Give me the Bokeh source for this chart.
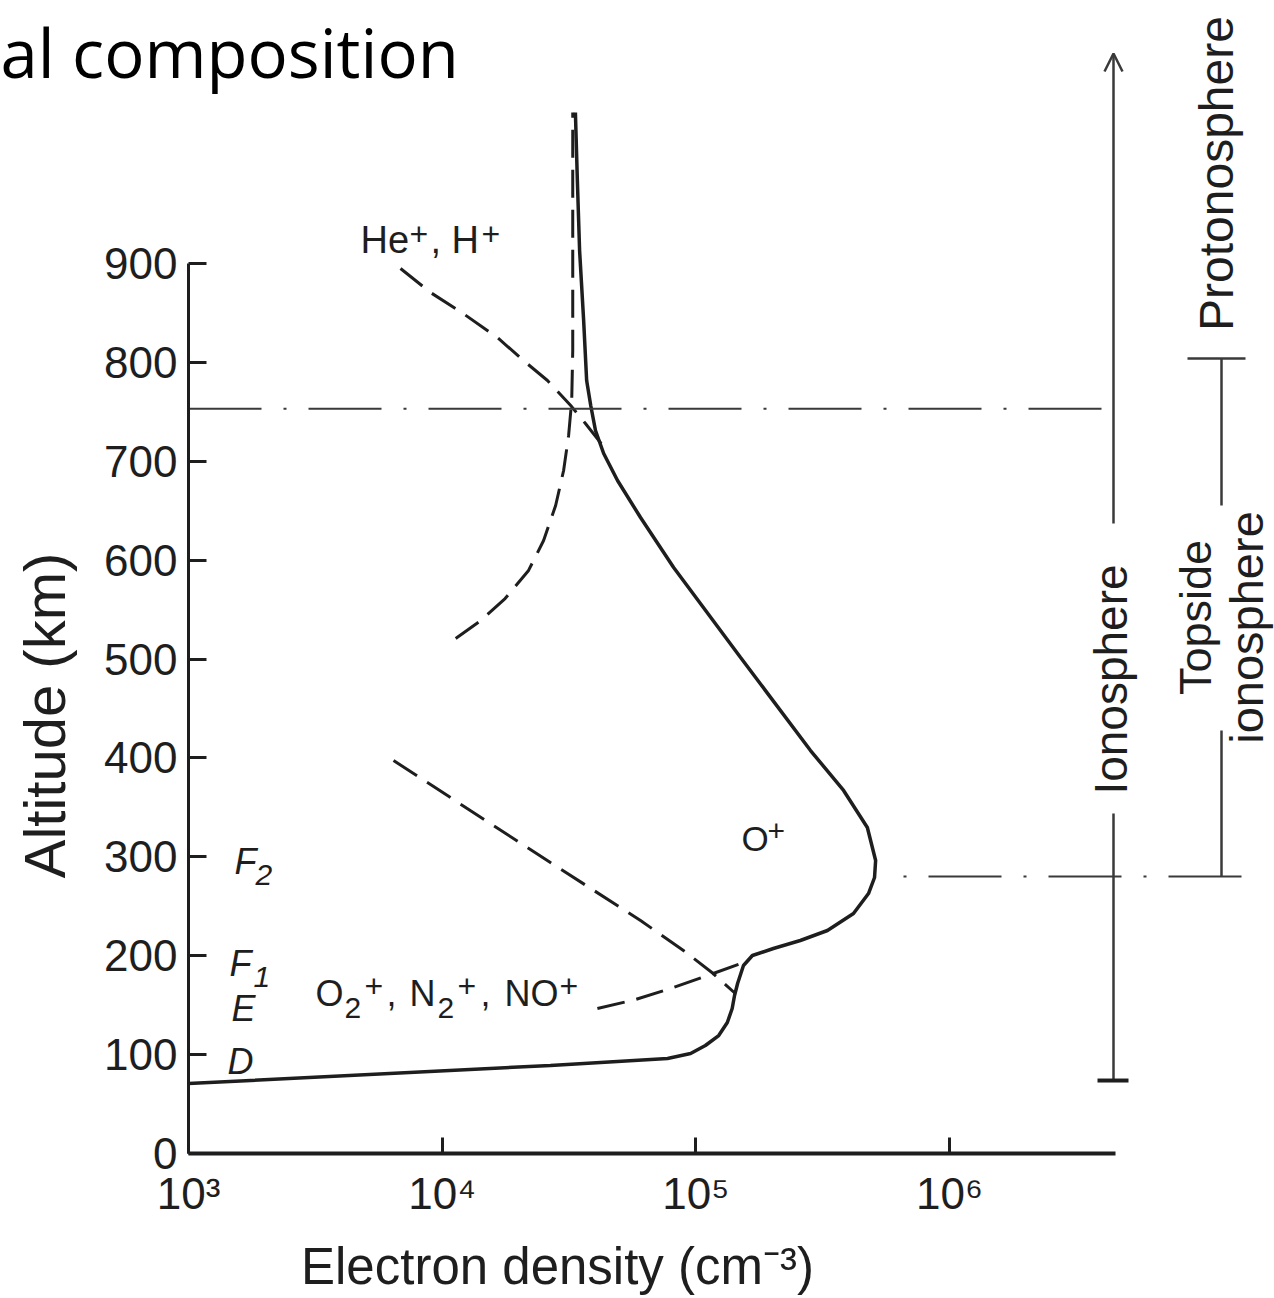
import math
from bokeh.plotting import figure
from bokeh.models import Range1d, FixedTicker, Arrow, OpenHead, ColumnDataSource
from bokeh.core.properties import value
from bokeh.embed import file_html
from bokeh.resources import INLINE

# ---------------- data ----------------
# total electron density profile (cm^-3) vs altitude (km)
NE_DENSITY = [1.00e3, 2.67e4, 7.73e4, 9.53e4, 1.09e5, 1.23e5, 1.33e5, 1.39e5, 1.42e5,
              1.46e5, 1.54e5, 1.67e5, 2.02e5, 2.58e5, 3.30e5, 4.18e5, 4.79e5, 5.06e5,
              5.11e5, 4.74e5, 3.82e5, 2.83e5, 1.50e5, 8.17e4, 6.05e4, 4.91e4, 4.33e4,
              4.02e4, 3.85e4, 3.71e4, 3.61e4, 3.48e4, 3.41e4, 3.35e4]
NE_ALT = [70.8, 89.0, 96.1, 101.1, 109.2, 119.3, 132.5, 146.6, 159.8,
          171.9, 190.1, 200.2, 207.3, 215.4, 225.5, 242.7, 262.9, 279.1,
          296.3, 329.7, 367.1, 407.5, 501.6, 592.6, 643.1, 680.6, 707.9,
          731.1, 756.4, 781.7, 842.4, 913.1, 984.0, 1052.7]

# upper ion branch (dashed, from 900 km down)
UPPER_DENSITY = [6.85e3, 8.99e3, 1.21e4, 1.65e4, 2.09e4, 2.60e4, 3.21e4, 3.67e4, 4.29e4]
UPPER_ALT = [894.9, 870.7, 849.4, 825.2, 801.9, 781.7, 756.4, 738.2, 716.0]

# light ions (dashed, rising)
LIGHT_DENSITY = [1.13e4, 1.42e4, 1.77e4, 2.19e4, 2.51e4, 2.80e4, 3.01e4, 3.15e4,
                 3.24e4, 3.27e4, 3.27e4, 3.27e4]
LIGHT_ALT = [520.8, 539.0, 561.2, 589.6, 619.9, 655.3, 690.7, 726.1,
             761.5, 812.0, 913.1, 1052.7]

# O+ lower side (dashed, from 400 km down)
OLOW_DENSITY = [6.43e3, 1.29e4, 2.67e4, 6.05e4, 8.93e4, 1.17e5, 1.43e5]
OLOW_ALT = [397.4, 346.9, 294.3, 235.6, 205.3, 182.0, 161.8]

# molecular ions (dashed)
MOL_DENSITY = [4.09e4, 5.78e4, 8.17e4, 1.17e5, 1.50e5]
MOL_ALT = [146.6, 155.7, 167.9, 182.0, 192.1]

# region boundaries (km)
IONO_BASE_KM = 73.8
F2_PEAK_KM = 280.1
TRANSITION_KM = 753.0
PROTO_BASE_KM = 803.9

X_TICKS = [1e3, 1e4, 1e5, 1e6]
X_TICK_LABELS = ["10\u00b3", "10\u2074", "10\u2075", "10\u2076"]
Y_TICKS = [0, 100, 200, 300, 400, 500, 600, 700, 800, 900]

# ---------------- layout ----------------
W, H = 1274, 1298
AX_X0, AX_Y0 = 188, 1153          # page pixel of (1e3, 0 km)
PX_PER_DEC = 253.7
PX_PER_KM = 0.98889
MID = 0.3465                       # em offset baseline -> middle (Liberation Sans)
MID_OPEN = 0.39                    # same for Open Sans


def X(sx):
    """density drawn at page pixel column sx"""
    return 10 ** (3 + (sx - AX_X0) / PX_PER_DEC)


def KM(sy):
    """altitude drawn at page pixel row sy"""
    return (AX_Y0 - sy) / PX_PER_KM


def KM_BASE(sy, size, k=MID):
    """altitude of the text middle for a baseline at page row sy"""
    return KM(sy - k * size)


p = figure(width=W, height=H, x_axis_type="log",
           x_range=Range1d(X(0), X(W)), y_range=Range1d(KM(H), KM(0)),
           output_backend="svg", toolbar_location=None, title=None,
           min_border=0)
p.grid.visible = False
p.outline_line_color = None
p.background_fill_color = "white"
p.border_fill_color = "white"

INK = "#1e1e1e"
GREY = "#3a3a3a"
FONT = "Liberation Sans"

xa = p.xaxis[0]
xa.fixed_location = 0
xa.ticker = FixedTicker(ticks=X_TICKS)
xa.major_label_overrides = dict(zip(X_TICKS, X_TICK_LABELS))
xa.bounds = (1e3, X(1115))
xa.major_tick_in = 16
xa.major_tick_out = 0
xa.minor_tick_line_color = None
xa.axis_line_width = 4
xa.axis_line_color = INK
xa.major_tick_line_width = 3
xa.major_tick_line_color = INK
xa.major_label_text_font = FONT
xa.major_label_text_font_size = "44px"
xa.major_label_text_color = INK
xa.major_label_standoff = 15

ya = p.yaxis[0]
ya.fixed_location = 1e3
ya.ticker = FixedTicker(ticks=Y_TICKS)
ya.bounds = (0, 900)
ya.major_tick_in = 18
ya.major_tick_out = 0
ya.minor_tick_line_color = None
ya.axis_line_width = 3
ya.axis_line_color = INK
ya.major_tick_line_width = 3
ya.major_tick_line_color = INK
ya.major_label_text_font = FONT
ya.major_label_text_font_size = "44px"
ya.major_label_text_color = INK
ya.major_label_standoff = 11

# ---------------- curves ----------------
p.line(NE_DENSITY, NE_ALT, line_color=INK, line_width=3.5)
DASH = "28 12"
for xs, ys in [(UPPER_DENSITY, UPPER_ALT), (LIGHT_DENSITY, LIGHT_ALT),
               (OLOW_DENSITY, OLOW_ALT), (MOL_DENSITY, MOL_ALT)]:
    p.line(xs, ys, line_color=INK, line_width=3, line_dash=DASH)

# dash-dot boundaries
p.line([1e3, X(1101)], [TRANSITION_KM, TRANSITION_KM], line_color=GREY, line_width=2,
       line_dash="73 22 3 22")
p.line([X(903), X(1242)], [F2_PEAK_KM, F2_PEAK_KM], line_color=GREY, line_width=2,
       line_dash="3 22 73 22")

# ionosphere arrow
xi = X(1113)
p.line([xi, xi], [IONO_BASE_KM, KM(813)], line_color=GREY, line_width=2.5)
p.line([X(1097), X(1128)], [IONO_BASE_KM, IONO_BASE_KM], line_color=INK, line_width=4)
p.add_layout(Arrow(end=OpenHead(size=18, line_width=2.5, line_color=GREY),
                   x_start=xi, y_start=KM(523), x_end=xi, y_end=KM(53),
                   line_width=2.5, line_color=GREY))

# topside bracket
xt = X(1221)
p.line([X(1187), X(1245)], [PROTO_BASE_KM, PROTO_BASE_KM], line_color=GREY, line_width=2.5)
p.line([xt, xt], [PROTO_BASE_KM, KM(505)], line_color=GREY, line_width=2.5)
p.line([xt, xt], [KM(730), F2_PEAK_KM], line_color=GREY, line_width=2.5)

# rotated labels (region names and the y-axis title)
rot = ColumnDataSource(dict(
    x=[X(1110), X(1195), X(1246), X(1216), X(44)],
    y=[KM(679), KM(617), KM(627), KM(173), KM(715)],
    text=["Ionosphere", "Topside", "ionosphere", "Protonosphere", "Altitude (km)"],
    size=["46px", "45px", "47px", "48px", "58px"]))
p.text(x="x", y="y", text="text", text_font_size="size", source=rot,
       angle=math.pi / 2, text_align="center", text_baseline="middle",
       text_font=value(FONT), text_color=INK)

# ion and layer labels built from pieces (sub/superscripts as smaller raised/lowered text)
PIECES = [
    # text, left px, baseline px, size, style
    ("He", 360, 253, 38, "normal"), ("+", 409, 245, 32, "normal"),
    (", H", 430, 253, 38, "normal"), ("+", 481, 245, 32, "normal"),
    ("O", 315, 1005, 36, "normal"), ("2", 344, 1018, 30, "normal"),
    ("+", 364, 997, 32, "normal"), (",", 386, 1005, 36, "normal"),
    ("N", 409, 1005, 36, "normal"), ("2", 437, 1018, 30, "normal"),
    ("+", 457, 997, 32, "normal"), (",", 480, 1005, 36, "normal"),
    ("NO", 504, 1005, 36, "normal"), ("+", 559, 997, 32, "normal"),
    ("O", 741, 850, 35, "normal"), ("+", 767, 841, 30, "normal"),
    ("F", 234, 873, 36, "italic"), ("2", 255, 885, 30, "italic"),
    ("F", 229, 975, 36, "italic"), ("1", 253, 987, 30, "italic"),
    ("E", 231, 1020, 36, "italic"), ("D", 227, 1073, 36, "italic"),
]
pieces = ColumnDataSource(dict(
    x=[X(t[1]) for t in PIECES], y=[KM_BASE(t[2], t[3]) for t in PIECES],
    text=[t[0] for t in PIECES], size=["%dpx" % t[3] for t in PIECES],
    style=[t[4] for t in PIECES]))
p.text(x="x", y="y", text="text", text_font_size="size", text_font_style="style",
       source=pieces, text_align="left", text_baseline="middle",
       text_font=value(FONT), text_color=INK)

# x axis title and page heading
p.text(x=[X(557)], y=[KM_BASE(1284, 51)], text=["Electron density (cm\u207b\u00b3)"],
       text_align="center", text_baseline="middle",
       text_font=value(FONT), text_font_size="51px", text_color=INK)
p.text(x=[X(0)], y=[KM_BASE(78, 67, MID_OPEN)], text=["al composition"],
       text_align="left", text_baseline="middle",
       text_font=value("Open Sans"), text_font_size="67px", text_color="black")

open("out.html", "w").write(file_html(p, INLINE))
